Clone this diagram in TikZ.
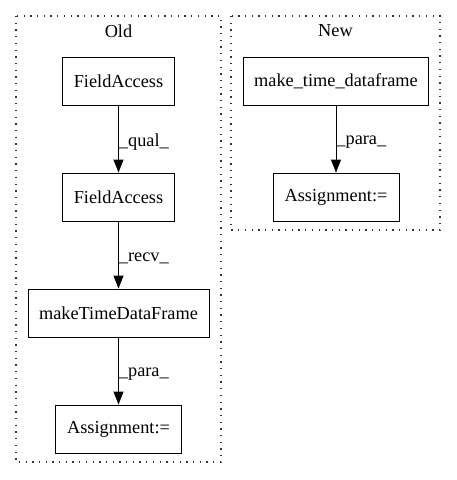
\documentclass[tikz,border=0pt]{standalone}
\usepackage{fontspec}
\setmainfont{Liberation Serif}
\usetikzlibrary{arrows.meta,positioning}

\begin{document}
\begin{tikzpicture}[
x=1pt,y=-1pt,
MyBoxes/.style={draw=black,line width=0.9pt,minimum height=48pt,inner xsep=11pt,font=\fontsize{18.3}{20}\selectfont},
MyClusters/.style={draw=black!80,line width=1.3pt,dash pattern=on 1.3pt off 5.4pt},
MyLabels/.style={font=\fontsize{18.3}{20}\selectfont},
Links/.style={draw=black,line width=0.9pt,-{Triangle[length=13pt,width=10pt]}}
]
\useasboundingbox (0,0) rectangle (456,480);

% clusters
\draw[MyClusters] (16,16) rectangle (221,462);
\node[MyLabels] (old) at (118.5,31) {Old};
\draw[MyClusters] (231,16) rectangle (440,230);
\node[MyLabels] (new) at (335.5,31) {New};

% Old graph
\node[MyBoxes,minimum width=111pt] (FA1) at (118.5,81) {FieldAccess};
\node[MyBoxes,minimum width=111pt] (FA2) at (118.5,197) {FieldAccess};
\node[MyBoxes] (MTDF) at (118.5,313) {makeTimeDataFrame};
\node[MyBoxes,minimum width=126pt] (AssOld) at (118.5,429) {Assignment:=};

% New graph
\node[MyBoxes] (mtdf) at (336,81) {make\_time\_dataframe};
\node[MyBoxes,minimum width=126pt] (AssNew) at (336,197) {Assignment:=};

\draw[Links] (FA1) -- (FA2) node[MyLabels,pos=0.55,right,inner sep=0pt]{\_qual\_};
\draw[Links] (FA2) -- (MTDF) node[MyLabels,pos=0.55,right,inner sep=0pt]{\_recv\_};
\draw[Links] (MTDF) -- (AssOld) node[MyLabels,pos=0.55,right,inner sep=0pt]{\_para\_};
\draw[Links] (mtdf) -- (AssNew) node[MyLabels,pos=0.55,right,inner sep=0pt]{\_para\_};

\end{tikzpicture}
\end{document}
